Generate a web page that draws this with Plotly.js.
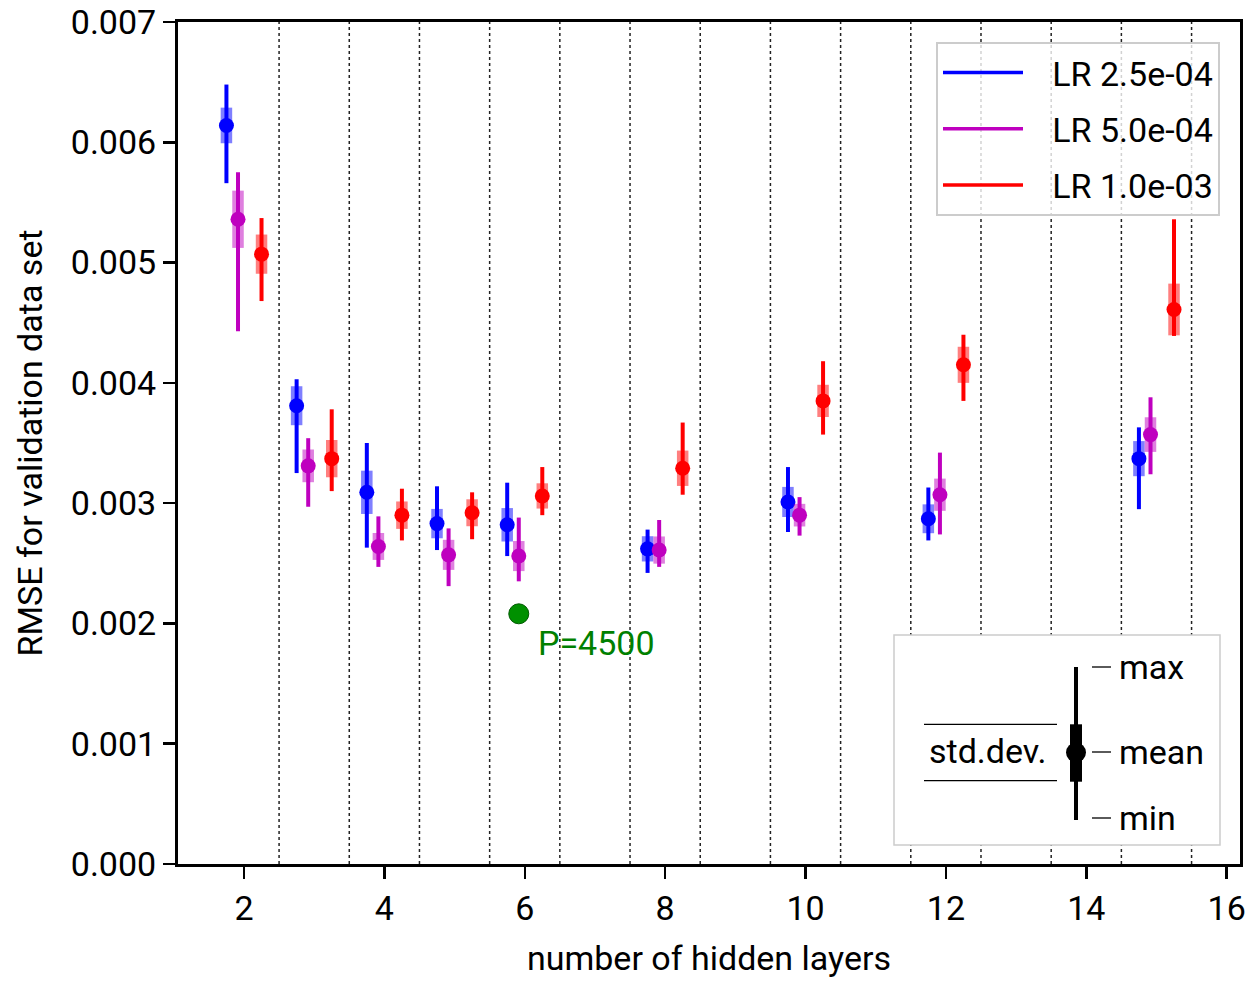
<!DOCTYPE html>
<html>
<head>
<meta charset="utf-8">
<script src="https://cdn.plot.ly/plotly-3.0.1.min.js"></script>
<style>html,body{margin:0;padding:0;background:#fff;}#chart{width:1249px;height:981px;}</style>
</head>
<body>
<div id="chart"></div>
<script>
// ---------- data ----------
const layers = [2, 3, 4, 5, 6, 8, 10, 12, 15];
const seriesNames = ['LR 2.5e-04', 'LR 5.0e-04', 'LR 1.0e-03'];

const meanLR1 = [0.00614, 0.00381, 0.00309, 0.00283, 0.00282, 0.00262, 0.00301, 0.00287, 0.00337];
const stdLR1  = [0.000148, 0.000162, 0.000180, 0.000122, 0.000139, 0.000105, 0.000125, 0.000120, 0.000146];
const minLR1  = [0.00566, 0.00325, 0.00263, 0.00261, 0.00256, 0.00242, 0.00276, 0.00269, 0.00295];
const maxLR1  = [0.00648, 0.00403, 0.00350, 0.00314, 0.00317, 0.00278, 0.00330, 0.00313, 0.00363];

const meanLR2 = [0.00536, 0.00331, 0.00264, 0.00257, 0.00256, 0.00261, 0.00290, 0.00307, 0.00357];
const stdLR2  = [0.000238, 0.000136, 0.000112, 0.000125, 0.000125, 0.000113, 0.000094, 0.000134, 0.000144];
const minLR2  = [0.00443, 0.00297, 0.00247, 0.00231, 0.00235, 0.00247, 0.00273, 0.00274, 0.00324];
const maxLR2  = [0.00575, 0.00354, 0.00289, 0.00279, 0.00288, 0.00286, 0.00305, 0.00342, 0.00388];

const meanLR3 = [0.00507, 0.00337, 0.00290, 0.00292, 0.00306, 0.00329, 0.00385, 0.00415, 0.00461];
const stdLR3  = [0.000163, 0.000155, 0.000114, 0.000112, 0.000105, 0.000147, 0.000134, 0.000150, 0.000215];
const minLR3  = [0.00468, 0.00310, 0.00269, 0.00270, 0.00290, 0.00307, 0.00357, 0.00385, 0.00439];
const maxLR3  = [0.00537, 0.00378, 0.00312, 0.00309, 0.00330, 0.00367, 0.00418, 0.00440, 0.00536];

const offsets = [-0.25, -0.085, 0.25];
const colors = ['#0000ff', '#bf00bf', '#ff0000'];
const colorsAlpha = ['rgba(0,0,255,0.5)', 'rgba(191,0,191,0.5)', 'rgba(255,0,0,0.5)'];

const bestLayer = 6;       // highlighted configuration
const bestValue = 0.00208;
const bestLabel = 'P=4500';

const separators = [2.5, 3.5, 4.5, 5.5, 6.5, 7.5, 8.5, 9.5, 10.5, 11.5, 12.5, 13.5, 14.5, 15.5];
const xTicks = [2, 4, 6, 8, 10, 12, 14, 16];

// ---------- build ----------
const FONT = 'Roboto, "DejaVu Sans", sans-serif';
const FS = 34;
const means = [meanLR1, meanLR2, meanLR3];
const stds = [stdLR1, stdLR2, stdLR3];
const mins = [minLR1, minLR2, minLR3];
const maxs = [maxLR1, maxLR2, maxLR3];

const traces = [];
for (let s = 0; s < 3; s++) {
  const xs = layers.map(l => l + offsets[s]);
  traces.push({
    x: xs, y: means[s], type: 'scatter', mode: 'markers',
    marker: {size: 10, color: colors[s], opacity: 0},
    error_y: {type: 'data', array: stds[s], symmetric: true, color: colorsAlpha[s], thickness: 11.5, width: 0},
    showlegend: false, hoverinfo: 'skip'
  });
  traces.push({
    x: xs, y: means[s], type: 'scatter', mode: 'markers',
    marker: {size: 15, color: colors[s]},
    error_y: {type: 'data', symmetric: false,
      array: maxs[s].map((v, i) => v - means[s][i]),
      arrayminus: means[s].map((v, i) => v - mins[s][i]),
      color: colors[s], thickness: 4, width: 0},
    showlegend: false, name: seriesNames[s]
  });
}
// best point
traces.push({
  x: [bestLayer + offsets[1]], y: [bestValue], type: 'scatter', mode: 'markers',
  marker: {size: 20, color: '#009000', line: {color: '#005a00', width: 1}},
  showlegend: false, name: bestLabel
});
// legend entries
for (let s = 0; s < 3; s++) {
  traces.push({
    x: [null], y: [null], type: 'scatter', mode: 'lines',
    line: {color: colors[s], width: 3.5}, name: '\u2002\u2009' + seriesNames[s],
    legendgroup: 'g' + s, showlegend: true
  });
}

// pixel -> paper helpers (plot area: x 178..1240, y 22..864)
const L = 178, R = 1240, T = 22, B = 864;
const PX = p => (p - L) / (R - L);
const PY = p => (B - p) / (B - T);

const shapes = separators.map(v => ({
  type: 'line', xref: 'x', yref: 'paper', x0: v, x1: v, y0: 0, y1: 1,
  line: {color: '#222', width: 1.5, dash: 'dot'}, layer: 'below'
}));

// explanatory key box (bottom right)
shapes.push({type: 'rect', xref: 'paper', yref: 'paper', x0: PX(894), x1: PX(1220), y0: PY(845), y1: PY(635),
  fillcolor: '#ffffff', line: {color: '#cccccc', width: 1.5}, layer: 'above'});
shapes.push({type: 'line', xref: 'paper', yref: 'paper', x0: PX(924), x1: PX(1057), y0: PY(724.3), y1: PY(724.3),
  line: {color: '#000', width: 1.3}, layer: 'above'});
shapes.push({type: 'line', xref: 'paper', yref: 'paper', x0: PX(924), x1: PX(1057), y0: PY(780.7), y1: PY(780.7),
  line: {color: '#000', width: 1.3}, layer: 'above'});
shapes.push({type: 'line', xref: 'paper', yref: 'paper', x0: PX(1076), x1: PX(1076), y0: PY(820), y1: PY(667),
  line: {color: '#000', width: 4}, layer: 'above'});
shapes.push({type: 'rect', xref: 'paper', yref: 'paper', x0: PX(1070), x1: PX(1082), y0: PY(781.7), y1: PY(724.3),
  fillcolor: '#000', line: {width: 0}, layer: 'above'});
shapes.push({type: 'circle', xref: 'paper', yref: 'paper', x0: PX(1066), x1: PX(1086), y0: PY(762.5), y1: PY(742.5),
  fillcolor: '#000', line: {width: 0}, layer: 'above'});
[667, 752, 818].forEach(py => shapes.push({type: 'line', xref: 'paper', yref: 'paper',
  x0: PX(1092), x1: PX(1111), y0: PY(py), y1: PY(py), line: {color: '#000', width: 1.3}, layer: 'above'}));

const keyFont = {family: FONT, size: FS, color: '#000'};
const annotations = [
  {xref: 'paper', yref: 'paper', x: PX(1117), y: PY(667), text: 'max', showarrow: false, xanchor: 'left', yanchor: 'middle', font: keyFont},
  {xref: 'paper', yref: 'paper', x: PX(1117), y: PY(752), text: 'mean', showarrow: false, xanchor: 'left', yanchor: 'middle', font: keyFont},
  {xref: 'paper', yref: 'paper', x: PX(1117), y: PY(818), text: 'min', showarrow: false, xanchor: 'left', yanchor: 'middle', font: keyFont},
  {xref: 'paper', yref: 'paper', x: PX(987), y: PY(751), text: 'std.dev.', showarrow: false, xanchor: 'center', yanchor: 'middle', font: keyFont},
  {xref: 'x', yref: 'y', x: bestLayer + offsets[1], y: bestValue, text: bestLabel, showarrow: false,
   xanchor: 'left', yanchor: 'middle', xshift: 17, yshift: -29, font: {family: FONT, size: FS, color: '#008000'}}
];

const layout = {
  width: 1249, height: 981,
  margin: {l: L, r: 1249 - R, t: T, b: 981 - B},
  paper_bgcolor: '#fff', plot_bgcolor: '#fff',
  font: {family: FONT, size: FS, color: '#000'},
  xaxis: {
    range: [1.06, 16.19], tickvals: xTicks, ticktext: xTicks.map(String),
    showline: true, mirror: true, linecolor: '#000', linewidth: 3,
    ticks: 'outside', ticklen: 12, tickwidth: 2.5, tickcolor: '#000',
    showgrid: false, zeroline: false,
    tickfont: {family: FONT, size: FS},
    title: {text: 'number of hidden layers', font: {family: FONT, size: FS}, standoff: 20}
  },
  yaxis: {
    range: [0, 0.007], dtick: 0.001, tick0: 0, tickformat: '.3f',
    showline: true, mirror: true, linecolor: '#000', linewidth: 3,
    ticks: 'outside', ticklen: 12, tickwidth: 2.5, tickcolor: '#000',
    showgrid: false, zeroline: false,
    tickfont: {family: FONT, size: FS},
    title: {text: 'RMSE for validation data set', font: {family: FONT, size: FS}, standoff: 18}
  },
  showlegend: true,
  legend: {
    x: PX(1220), y: PY(42), xanchor: 'right', yanchor: 'top',
    bgcolor: 'rgba(255,255,255,0.8)', bordercolor: '#cccccc', borderwidth: 2,
    font: {family: FONT, size: FS}, traceorder: 'grouped', tracegroupgap: 9,
    itemwidth: 80
  },
  shapes: shapes,
  annotations: annotations
};

Plotly.newPlot('chart', traces, layout, {displayModeBar: false, staticPlot: true});
</script>
</body>
</html>
